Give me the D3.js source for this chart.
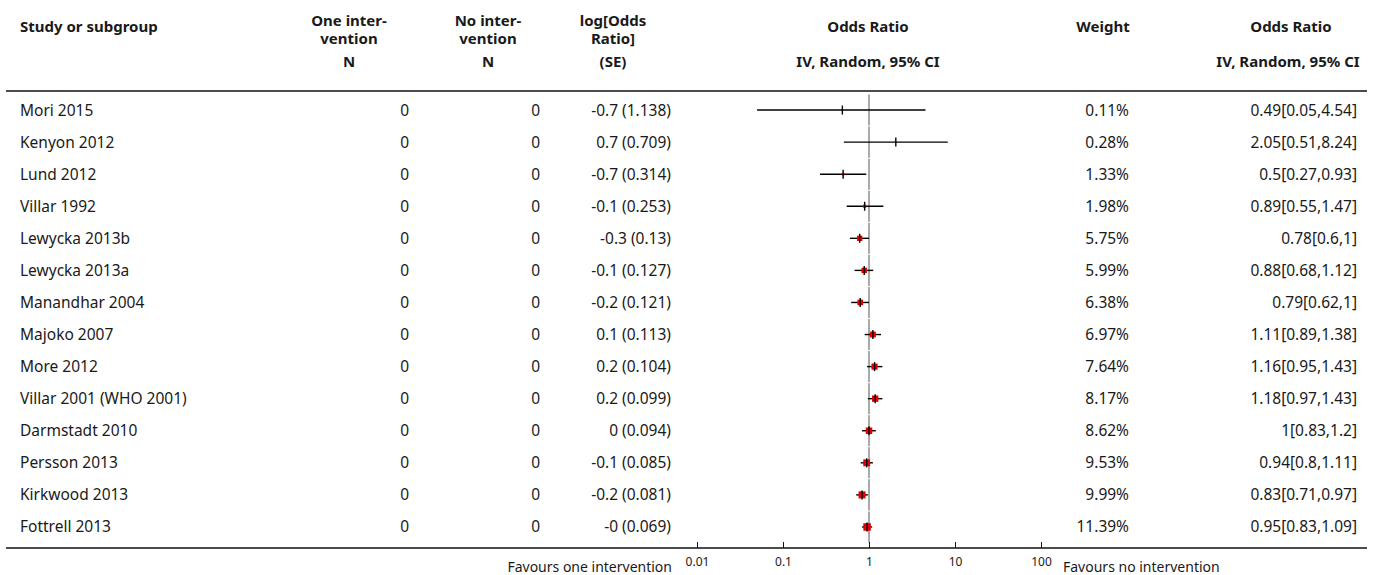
<!DOCTYPE html>
<html>
<head>
<meta charset="utf-8">
<script src="https://cdn.jsdelivr.net/npm/d3@7"></script>
<style>
  html, body { margin: 0; padding: 0; background: #fff; }
  svg { display: block; font-family: "Noto Sans", "Open Sans", sans-serif; }
</style>
</head>
<body>
<svg id="chart" width="1375" height="575"></svg>
<script>
// ---- data ----
const studies = ["Mori 2015","Kenyon 2012","Lund 2012","Villar 1992","Lewycka 2013b","Lewycka 2013a","Manandhar 2004","Majoko 2007","More 2012","Villar 2001 (WHO 2001)","Darmstadt 2010","Persson 2013","Kirkwood 2013","Fottrell 2013"];
const nOne = [0,0,0,0,0,0,0,0,0,0,0,0,0,0];
const nNo = [0,0,0,0,0,0,0,0,0,0,0,0,0,0];
const logOR = ["-0.7","0.7","-0.7","-0.1","-0.3","-0.1","-0.2","0.1","0.2","0.2","0","-0.1","-0.2","-0"];
const se = [1.138,0.709,0.314,0.253,0.13,0.127,0.121,0.113,0.104,0.099,0.094,0.085,0.081,0.069];
const weight = [0.11,0.28,1.33,1.98,5.75,5.99,6.38,6.97,7.64,8.17,8.62,9.53,9.99,11.39];
const orVal = [0.49,2.05,0.5,0.89,0.78,0.88,0.79,1.11,1.16,1.18,1,0.94,0.83,0.95];
const ciLo = [0.05,0.51,0.27,0.55,0.6,0.68,0.62,0.89,0.95,0.97,0.83,0.8,0.71,0.83];
const ciHi = [4.54,8.24,0.93,1.47,1,1.12,1,1.38,1.43,1.43,1.2,1.11,0.97,1.09];
const axisTicks = [0.01,0.1,1,10,100];
const leftLabel = "Favours one intervention";
const rightLabel = "Favours no intervention";

const rows = studies.map((s,i)=>({study:s, n1:nOne[i], n2:nNo[i], lor:logOR[i], se:se[i], w:weight[i], or:orVal[i], lo:ciLo[i], hi:ciHi[i]}));

const svg = d3.select("#chart");
const txt = "#1a1a1a";
const fs = 15.5;
const hfs = 15;

const x = d3.scaleLog().domain([0.01,100]).range([697,1041]);
const y = d3.scaleBand().domain(studies).range([94,543]);
const sz = d3.scaleSqrt().domain([0, d3.max(weight)]).range([0, 7.5]);

// header
const hdr = svg.append("g").attr("font-weight","bold").attr("font-size",hfs).attr("fill",txt);
hdr.append("text").attr("x",20).attr("y",32).text("Study or subgroup");
const hcols = [
  {x:349, lines:["One inter-","vention"]},
  {x:488, lines:["No inter-","vention"]},
  {x:613, lines:["log[Odds","Ratio]"]},
  {x:868, lines:["Odds Ratio"]},
  {x:1103, lines:["Weight"]},
  {x:1291, lines:["Odds Ratio"]}
];
hcols.forEach(c=>{
  c.lines.forEach((l,j)=>{
    hdr.append("text").attr("x",c.x).attr("y",(c.lines.length===1?32:26)+j*18).attr("text-anchor","middle").text(l);
  });
});
[["N",349],["N",488],["(SE)",613],["IV, Random, 95% CI",868],["IV, Random, 95% CI",1288]].forEach(d=>{
  hdr.append("text").attr("x",d[1]).attr("y",67).attr("text-anchor","middle").text(d[0]);
});

// header rule
svg.append("line").attr("x1",6).attr("x2",1367).attr("y1",91).attr("y2",91).attr("stroke","#111").attr("stroke-width",1.5);

// body rows
const body = svg.append("g").attr("font-size",fs).attr("fill",txt);
const rg = body.selectAll("g.row").data(rows).join("g").attr("class","row")
  .attr("transform",d=>`translate(0,${y(d.study)+y.bandwidth()/2+5.5})`);
rg.append("text").attr("x",20).text(d=>d.study);
rg.append("text").attr("x",409).attr("text-anchor","end").text(d=>d.n1);
rg.append("text").attr("x",540).attr("text-anchor","end").text(d=>d.n2);
rg.append("text").attr("x",671).attr("text-anchor","end").text(d=>`${d.lor} (${d.se})`);
rg.append("text").attr("x",1129).attr("text-anchor","end").text(d=>`${d.w.toFixed(2)}%`);
rg.append("text").attr("x",1357).attr("text-anchor","end").text(d=>`${d.or}[${d.lo},${d.hi}]`);

// reference line at 1 (segments per row)
svg.append("g").selectAll("line").data(studies).join("line")
  .attr("x1",x(1)).attr("x2",x(1))
  .attr("y1",d=>y(d)+0.5).attr("y2",d=>y(d)+y.bandwidth()-0.5)
  .attr("stroke","#8c8c8c").attr("stroke-width",1.5);

// forest marks
const fm = svg.append("g").selectAll("g").data(rows).join("g")
  .attr("transform",d=>`translate(0,${y(d.study)+y.bandwidth()/2})`);
fm.append("line").attr("x1",d=>x(d.lo)).attr("x2",d=>x(d.hi)).attr("y1",0).attr("y2",0)
  .attr("stroke","#000").attr("stroke-width",1.4);
fm.append("rect")
  .attr("x",d=>x(d.or)-sz(d.w)/2).attr("y",d=>-sz(d.w)/2)
  .attr("width",d=>sz(d.w)).attr("height",d=>sz(d.w))
  .attr("fill","#e00000");
fm.append("line").attr("x1",d=>x(d.or)).attr("x2",d=>x(d.or)).attr("y1",-4.5).attr("y2",4.5)
  .attr("stroke","#000").attr("stroke-width",1.4);

// axis
svg.append("line").attr("x1",6).attr("x2",1367).attr("y1",548).attr("y2",548).attr("stroke","#111").attr("stroke-width",1.5);
const ax = d3.axisTop(x).tickValues(axisTicks).tickSize(6).tickFormat(d=>d3.format("~g")(d));
const axg = svg.append("g").attr("transform","translate(0,548)").call(ax);
axg.select(".domain").remove();
axg.selectAll(".tick line").attr("stroke","#111").attr("stroke-width",1);
axg.selectAll(".tick text").attr("y",18).attr("dy",0).attr("font-size",12).attr("fill",txt)
  .attr("font-family","'Noto Sans', sans-serif");

svg.append("text").attr("x",672).attr("y",572).attr("text-anchor","end").attr("font-size",14).attr("fill",txt).text(leftLabel);
svg.append("text").attr("x",1063).attr("y",572).attr("font-size",14).attr("fill",txt).text(rightLabel);
</script>
</body>
</html>
